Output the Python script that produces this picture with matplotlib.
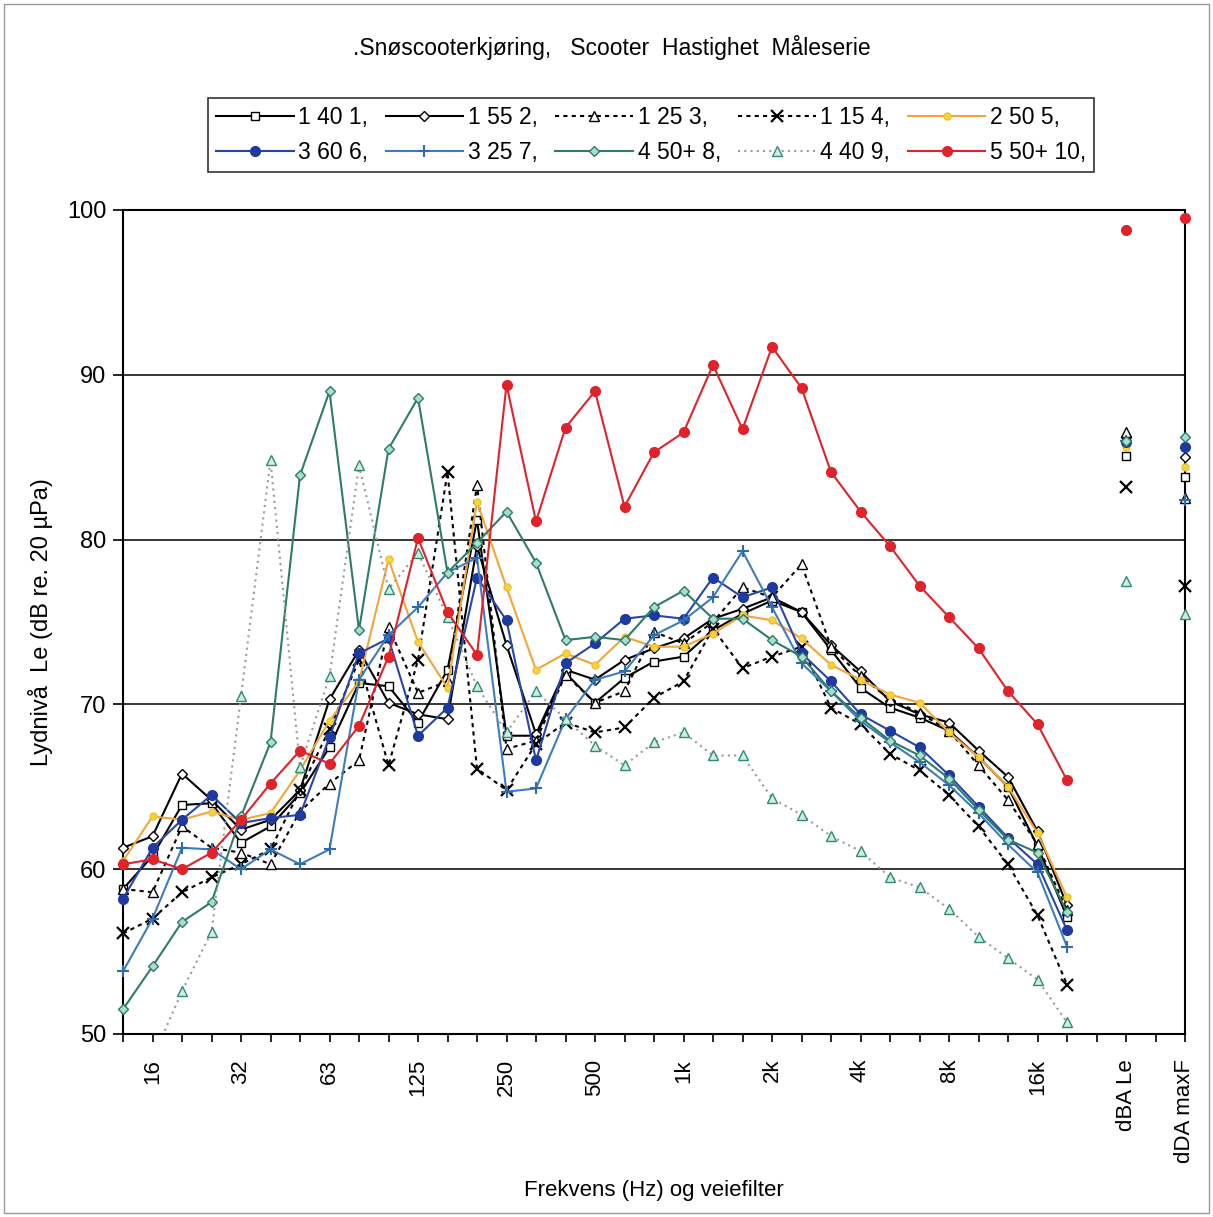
import matplotlib
matplotlib.use('Agg')
import matplotlib.pyplot as plt
from matplotlib.patches import Rectangle

plt.rcParams['font.family'] = ['Liberation Sans', 'DejaVu Sans']

# 1/3-octave bands 12.5 Hz .. 20 kHz, then the two weighted levels
x_labels = ['', '16', '', '', '32', '', '', '63', '', '', '125', '', '', '250', '', '',
            '500', '', '', '1k', '', '', '2k', '', '', '4k', '', '', '8k', '', '',
            '16k', '', '', 'dBA Le', '', 'dDA maxF']
le_pos = 34
maxf_pos = 36

names = ['1 40 1,', '1 55 2,', '1 25 3,', '1 15 4,', '2 50 5,',
         '3 60 6,', '3 25 7,', '4 50+ 8,', '4 40 9,', '5 50+ 10,']

s1 = [58.8, 60.8, 63.9, 64.0, 61.6, 62.6, 64.6, 67.4, 71.3, 71.1, 68.9, 72.1, 81.2, 68.1, 68.1, 71.9, 70.1,
      71.6, 72.6, 72.9, 74.5, 75.5, 76.3, 75.6, 73.3, 71.0, 69.8, 69.2, 68.4, 66.8, 65.0, 61.4, 57.1]
s2 = [61.3, 62.0, 65.8, 64.2, 62.4, 63.0, 64.8, 70.3, 73.3, 70.1, 69.4, 69.1, 79.6, 73.6, 68.2, 72.1, 71.5,
      72.7, 73.4, 74.0, 75.2, 75.8, 76.5, 75.6, 73.6, 72.0, 70.2, 69.4, 68.9, 67.2, 65.6, 62.3, 57.8]
s3 = [58.8, 58.6, 62.6, 61.3, 61.0, 60.3, 63.5, 65.2, 66.6, 74.7, 70.7, 71.4, 83.3, 67.3, 67.8, 71.8, 70.1,
      70.8, 74.4, 73.7, 75.0, 77.1, 76.5, 78.5, 73.5, 71.7, 70.3, 69.5, 68.4, 66.3, 64.2, 61.5, 57.5]
s4 = [56.1, 57.0, 58.6, 59.5, 60.3, 61.2, 64.8, 68.5, 72.7, 66.3, 72.7, 84.1, 66.1, 64.8, 67.6, 68.9, 68.3,
      68.6, 70.4, 71.4, 74.6, 72.2, 72.9, 73.5, 69.8, 68.8, 67.0, 66.0, 64.5, 62.6, 60.3, 57.2, 53.0]
s5 = [60.5, 63.2, 63.0, 63.5, 63.0, 63.4, 66.0, 69.0, 71.4, 78.8, 73.8, 71.0, 82.3, 77.1, 72.1, 73.1, 72.4,
      74.1, 73.5, 73.5, 74.3, 75.4, 75.1, 74.0, 72.4, 71.5, 70.6, 70.1, 68.3, 66.8, 65.0, 62.2, 58.3]
s6 = [58.2, 61.3, 63.0, 64.5, 62.8, 63.1, 63.3, 68.0, 73.1, 74.0, 68.1, 69.8, 77.7, 75.1, 66.6, 72.5, 73.7,
      75.2, 75.4, 75.2, 77.7, 76.5, 77.1, 73.1, 71.4, 69.4, 68.4, 67.4, 65.7, 63.8, 61.9, 60.3, 56.3]
s7 = [53.8, 57.0, 61.3, 61.2, 60.0, 61.2, 60.3, 61.2, 71.5, 74.2, 75.9, 78.0, 78.9, 64.7, 64.9, 69.1, 71.5,
      72.0, 74.2, 75.1, 76.5, 79.3, 75.9, 72.5, 70.8, 69.0, 67.7, 66.5, 65.1, 63.4, 61.5, 59.8, 55.3]
s8 = [51.5, 54.1, 56.8, 58.0, 63.2, 67.7, 83.9, 89.0, 74.5, 85.5, 88.6, 78.0, 79.8, 81.7, 78.6, 73.9, 74.1,
      73.9, 75.9, 76.9, 75.2, 75.2, 73.9, 72.9, 70.8, 69.2, 67.8, 66.9, 65.5, 63.6, 61.8, 61.0, 57.4]
s9 = [46.0, 48.5, 52.6, 56.2, 70.5, 84.8, 66.2, 71.7, 84.5, 77.0, 79.2, 75.3, 71.1, 68.3, 70.8, 69.1, 67.5,
      66.3, 67.7, 68.3, 66.9, 66.9, 64.3, 63.3, 62.0, 61.1, 59.5, 58.9, 57.6, 55.9, 54.6, 53.3, 50.7]
s10 = [60.3, 60.6, 60.0, 61.0, 63.0, 65.2, 67.2, 66.4, 68.7, 72.9, 80.1, 75.6, 73.0, 89.4, 81.1, 86.8, 89.0,
       82.0, 85.3, 86.5, 90.6, 86.7, 91.7, 89.2, 84.1, 81.7, 79.6, 77.2, 75.3, 73.4, 70.8, 68.8, 65.4]

dba_le = [85.1, 86.2, 86.5, 83.2, 85.6, 85.9, 86.0, 86.0, 77.5, 98.8]
dba_maxf = [83.8, 85.0, 82.5, 77.2, 84.4, 85.6, 82.4, 86.2, 75.5, 99.5]

series = [s1, s2, s3, s4, s5, s6, s7, s8, s9, s10]

dots = (0, (2, 2))
styles = [
    dict(color='black', ls='-', marker='s', mfc='white', mec='black', ms=6),
    dict(color='black', ls='-', marker='D', mfc='white', mec='black', ms=5),
    dict(color='black', ls=dots, marker='^', mfc='white', mec='black', ms=7),
    dict(color='black', ls=dots, marker='x', mfc='black', mec='black', ms=8, mew=1.6),
    dict(color='#F2A53A', ls='-', marker='o', mfc='#F7D43A', mec='#F0C030', ms=5),
    dict(color='#2A45A8', ls='-', marker='o', mfc='#1F3A9E', mec='#1F3A9E', ms=7),
    dict(color='#3F7CBC', ls='-', marker='+', mfc='#3F7CBC', mec='#2F6CAC', ms=9, mew=1.5),
    dict(color='#2E7C68', ls='-', marker='D', mfc='#A9DDD0', mec='#2E7C68', ms=5),
    dict(color='#9A9A9A', ls=(0, (1, 2)), marker='^', mfc='#CFEDE5', mec='#2E8C74', ms=7),
    dict(color='#E0222B', ls='-', marker='o', mfc='#E0222B', mec='#E0222B', ms=7),
]

fig = plt.figure(figsize=(12.13, 12.17), dpi=100)
ax = fig.add_axes([123 / 1213, 1 - 1034 / 1217, (1185 - 123) / 1213, (1034 - 210) / 1217])

handles = []
for i, (vals, st) in enumerate(zip(series, styles)):
    h, = ax.plot(range(len(vals)), vals, lw=1.5, label=names[i], clip_on=(i == 8),
                 zorder=3 + (i == 9), **st)
    handles.append(h)
    pts = dict(st)
    pts['ls'] = 'none'
    ax.plot([le_pos, maxf_pos], [dba_le[i], dba_maxf[i]], clip_on=False, zorder=5, **pts)

ax.set_xlim(0, len(x_labels) - 1)
ax.set_ylim(50, 100)
ax.set_yticks(range(50, 101, 10))
ax.set_xticks(range(len(x_labels)))
ax.set_xticklabels(x_labels, rotation=90, fontsize=16)
ax.tick_params(axis='y', labelsize=17, direction='out', length=7, width=1.2, pad=5)
ax.tick_params(axis='x', direction='out', length=6, width=1.2, pad=12)
for v in (60, 70, 80, 90):
    ax.axhline(v, color='black', lw=1.1, zorder=1)
for sp in ax.spines.values():
    sp.set_linewidth(1.5)

ax.set_ylabel('Lydnivå  Le (dB re. 20 µPa)', fontsize=17, labelpad=10)
ax.set_xlabel('Frekvens (Hz) og veiefilter', fontsize=16, labelpad=12)

fig.text(612 / 1213, 1 - 47 / 1217, '.Snøscooterkjøring,   Scooter  Hastighet  Måleserie',
         ha='center', va='center', fontsize=16.5)

order = [0, 5, 1, 6, 2, 7, 3, 8, 4, 9]
leg = fig.legend([handles[k] for k in order], [names[k] for k in order], ncol=5,
                 loc='center', bbox_to_anchor=(651 / 1213, 1 - 135 / 1217),
                 fontsize=16.5, frameon=True, fancybox=False, edgecolor='black',
                 handlelength=3.4, columnspacing=0.75, handletextpad=0.2,
                 borderpad=0.35, labelspacing=0.5)
leg.get_frame().set_linewidth(1.2)

fig.patches.append(Rectangle((0.003, 0.003), 0.994, 0.994, transform=fig.transFigure,
                             fill=False, edgecolor='#999999', lw=1))

fig.savefig('out.png', dpi=100)
